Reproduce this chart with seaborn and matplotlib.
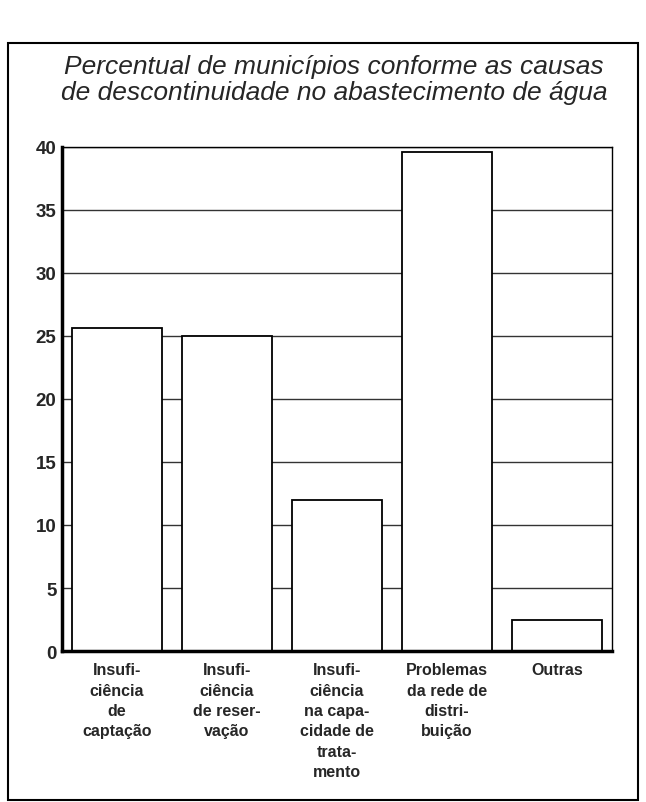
import pandas as pd
import matplotlib.pyplot as plt
import seaborn as sns
from matplotlib.patches import Rectangle

# Dados
causas = [
    "Insufi-\nciência\nde\ncaptação",
    "Insufi-\nciência\nde reser-\nvação",
    "Insufi-\nciência\nna capa-\ncidade de\ntrata-\nmento",
    "Problemas\nda rede de\ndistri-\nbuição",
    "Outras",
]
percentual = [25.6, 25.0, 12.0, 39.6, 2.5]
yticks = [0, 5, 10, 15, 20, 25, 30, 35, 40]

df = pd.DataFrame({"causa": causas, "pct": percentual})

sns.set_style("white")
plt.rcParams["font.family"] = ["Liberation Sans", "DejaVu Sans"]

fig = plt.figure(figsize=(6.46, 8.03), dpi=100)
ax = fig.add_axes([0.096, 0.188, 0.851, 0.628])

# linhas de grade atrás das barras
for v in yticks[1:]:
    ax.axhline(v, color="#333333", lw=1.0, zorder=0)

sns.barplot(data=df, x="causa", y="pct", color="white", edgecolor="black",
            linewidth=1.3, width=0.82, saturation=1, ax=ax, zorder=2)

ax.set_xlim(-0.5, 4.5)
ax.set_ylim(0, 40)
ax.set_yticks(yticks)
ax.set_yticklabels([str(v) for v in yticks], fontweight="bold", fontsize=13.5)
ax.set_xlabel("")
ax.set_ylabel("")
ax.tick_params(axis="x", length=0, labelsize=11.5, pad=8)
ax.tick_params(axis="y", length=4, width=1, direction="in", pad=4)
for lab in ax.get_xticklabels():
    lab.set_fontweight("bold")
    lab.set_linespacing(1.45)
    lab.set_verticalalignment("top")

for s in ["left", "bottom"]:
    ax.spines[s].set_linewidth(2.5)
ax.spines["right"].set_linewidth(1.0)
ax.spines["top"].set_linewidth(1.0)
for s in ax.spines.values():
    s.set_color("black")

fig.text(0.517, 0.932, "Percentual de municípios conforme as causas\n"
         "de descontinuidade no abastecimento de água",
         ha="center", va="top", fontsize=19, style="italic",
         linespacing=1.15)

# moldura externa
fig.patches.append(Rectangle((0.012, 0.003), 0.976, 0.942, transform=fig.transFigure,
                             fill=False, edgecolor="black", lw=1.5))

fig.savefig("out.png", dpi=100)
